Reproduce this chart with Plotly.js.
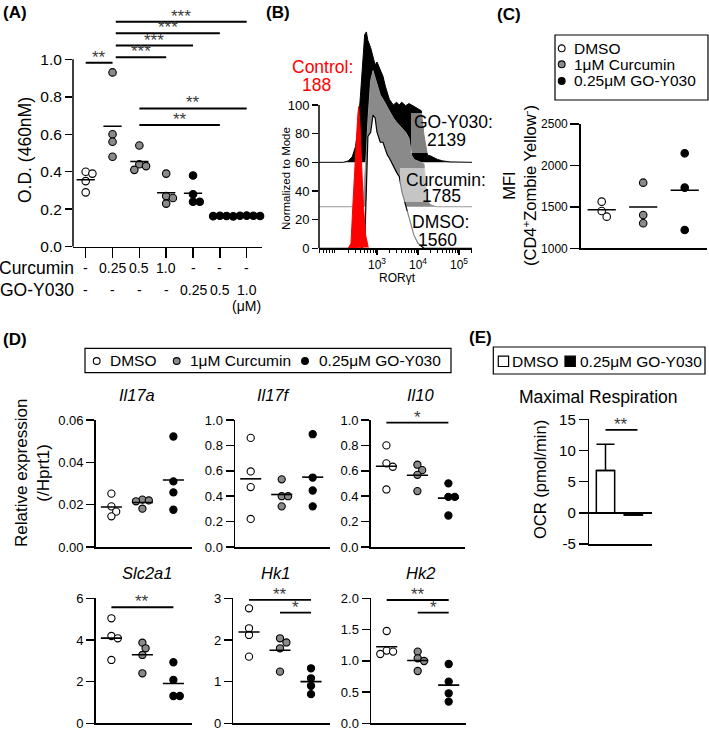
<!DOCTYPE html>
<html><head><meta charset="utf-8">
<script src="https://cdn.plot.ly/plotly-3.0.1.min.js"></script>
<style>html,body{margin:0;padding:0;background:#fff}#chart{width:709px;height:732px}</style>
</head><body><div id="chart"></div>
<script>
// ================= DATA =================
// (A) O.D. (460nM)
const aCurcumin = ['-', '0.25', '0.5', '1.0', '-', '-', '-'];
const aGoY030   = ['-', '-', '-', '-', '0.25', '0.5', '1.0'];
const aTypes    = ['dmso', 'cur', 'cur', 'cur', 'go', 'go', 'go'];
const aDMSO   = [0.40, 0.39, 0.35, 0.29];
const aCur025 = [0.93, 0.60, 0.56, 0.48];
const aCur05  = [0.54, 0.44, 0.43, 0.41];
const aCur10  = [0.39, 0.27, 0.26, 0.23];
const aGo025  = [0.38, 0.28, 0.24, 0.24];
const aGo05   = [0.165, 0.164, 0.163, 0.162];
const aGo10   = [0.166, 0.165, 0.165, 0.164];
const aSigFrom = [0, 1.12, 1.12, 1.12, 1.12, 2, 2];
const aSigTo   = [1, 3, 4, 5, 6, 5, 6];
const aSigY    = [0.982, 1.011, 1.073, 1.139, 1.201, 0.649, 0.738];
const aSigText = ['**', '***', '***', '***', '***', '**', '**'];

// (B) RORgt histograms (normalized to mode)
const bBins = [150, 200, 250, 300, 350, 400, 450, 500, 550, 600, 700, 800, 900, 1000, 1200, 1400, 1600, 1800, 2000, 2500, 3000, 3500, 4000, 5000, 6000, 7000, 8000, 10000, 12000, 14000, 17000, 20000, 25000, 30000, 40000, 60000];
const bGO   = [0, 1, 4, 11, 26, 49, 73, 89, 91, 85, 80, 74, 68, 70, 64, 60, 53, 48, 44, 40, 42, 40, 42, 39.5, 41, 40, 39, 37.7, 36, 19, 5, 4.5, 3, 2, 1, 0.3];
const bCur  = [0, 0, 0, 0, 0, 0, 1, 18, 38, 60, 88, 95, 90, 85, 78, 75, 72, 69, 67, 62, 59, 57, 55, 52, 48, 36, 33, 32, 31, 30, 4, 1.5, 0.5, 0, 0, 0];
const bDMSO = [0, 0, 0, 0, 0, 0, 1, 3, 41, 78, 81, 93, 91, 81, 74, 74, 69, 65, 63, 57, 53, 50, 40, 30, 22, 14, 9, 3.5, 1.2, 0, 0, 0, 0, 0, 0, 0];
const bCtrlX = [200, 232, 263, 300, 338, 357, 385, 423, 464, 530, 614];
const bCtrlY = [0, 3.5, 35, 70, 92, 99, 86, 58, 30, 9, 0.5];
const bLabels = ['GO-Y030:', '2139', 'Curcumin:', '1785', 'DMSO:', '1560'];
const bControlLabel = ['Control:', '188'];

// (C) MFI (CD4+ Zombie Yellow-)
const cGroups = ['DMSO', '1μM Curcumin', '0.25μM GO-Y030'];
const cDMSO = [1563, 1382, 1450];
const cCur  = [1792, 1302, 1402];
const cGo   = [2146, 1732, 1221];

// (D) Relative expression (/Hprt1)
const dGenes = ['Il17a', 'Il17f', 'Il10', 'Slc2a1', 'Hk1', 'Hk2'];
const dIl17a  = [[0.0252, 0.0192, 0.0167, 0.0145], [0.0224, 0.0220, 0.0216, 0.0181], [0.0522, 0.0310, 0.0258, 0.0176]];
const dIl17f  = [[0.859, 0.595, 0.472, 0.221], [0.533, 0.40, 0.40, 0.32], [0.888, 0.547, 0.445, 0.32]];
const dIl10   = [[0.80, 0.659, 0.632, 0.453], [0.648, 0.605, 0.568, 0.44], [0.501, 0.395, 0.395, 0.248]];
const dSlc2a1 = [[5.04, 4.19, 4.08, 3.04], [3.87, 3.6, 3.28, 2.4], [2.93, 2.08, 1.31, 1.31]];
const dHk1    = [[2.76, 2.28, 2.12, 1.6], [2.04, 1.94, 1.8, 1.24], [1.32, 1.08, 0.9, 0.70]];
const dHk2    = [[1.477, 1.163, 1.147, 1.109], [1.147, 1.04, 0.997, 0.837], [0.949, 0.667, 0.48, 0.347]];
const dSig = {
  Il10:   [[0, 2, '*', 0.979]],
  Slc2a1: [[0, 2, '**', 5.57]],
  Hk1:    [[0, 2, '**', 2.96], [1, 2, '*', 2.656]],
  Hk2:    [[0, 2, '**', 1.973], [1, 2, '*', 1.771]]
};

// (E) Maximal respiration, OCR (pmol/min)
const eGroups = ['DMSO', '0.25μM GO-Y030'];
const eMean = [6.8, -0.35];
const eErr  = [4.2, 0];
const eSig  = [[0, 1.15, '**', 13.3]];

// ================= LAYOUT HELPERS =================
const W = 709, H = 732;
const FONT = 'Liberation Sans, Arial, Helvetica, sans-serif';
const GRAY = '#8a8a8a';
const fillOf = {dmso: 'white', cur: GRAY, go: 'black'};
const PX = p => p / W, PY = p => 1 - p / H;
function catRange(p0, p1, first, step) { return [(p0 - first) / step, (p1 - first) / step]; }
function valRange(top, bot, pA, vA, pB, vB) { const k = (vB - vA) / (pB - pA); return [vA + (bot - pA) * k, vA + (top - pA) * k]; }

const layout = {width: W, height: H, margin: {l: 0, r: 0, t: 0, b: 0}, paper_bgcolor: 'white',
  plot_bgcolor: 'rgba(0,0,0,0)', showlegend: false, font: {family: FONT, color: 'black'},
  shapes: [], annotations: []};
const traces = [];

function axBase() {
  return {showgrid: false, zeroline: false, showline: true, linecolor: 'black', linewidth: 1.5,
    ticks: 'outside', tickcolor: 'black', tickwidth: 1.5, ticklen: 8,
    tickfont: {family: FONT, size: 13, color: 'black'}, fixedrange: true};
}
const sfx = n => (n === 1 ? '' : String(n));
const pxInfo = {};
function setAxes(n, xd, yd, xr, yr, xo, yo) {
  const s = sfx(n);
  layout['xaxis' + s] = Object.assign(axBase(), {domain: [PX(xd[0]), PX(xd[1])], range: xr, anchor: 'y' + s}, xo || {});
  layout['yaxis' + s] = Object.assign(axBase(), {domain: [PY(yd[1]), PY(yd[0])], range: yr, anchor: 'x' + s}, yo || {});
  pxInfo[n] = {xd, yd, xr, yr};
}
function ann(text, x, y, size, o) {
  layout.annotations.push(Object.assign({text, xref: 'paper', yref: 'paper', x: PX(x), y: PY(y), showarrow: false,
    xanchor: 'center', yanchor: 'middle', font: {family: FONT, size, color: 'black'}}, o || {}));
}
function swarm(vals, unitPx, catPx, d) {
  const idx = vals.map((v, i) => i).sort((a, b) => vals[b] - vals[a]);
  const placed = [], off = vals.map(() => 0), step = d / 4;
  for (const i of idx) {
    const y = vals[i] * unitPx;
    let chosen = 0;
    for (let k = 0; k < 80; k++) {
      const c = k === 0 ? 0 : (k % 2 ? 1 : -1) * Math.ceil(k / 2) * step;
      if (placed.every(p => Math.hypot(p.x - c, p.y - y) >= d)) { chosen = c; break; }
    }
    placed.push({x: chosen, y}); off[i] = chosen / catPx;
  }
  return off;
}
function dots(n, groups, types, size) {
  const s = sfx(n), P = pxInfo[n];
  const catPx = (P.xd[1] - P.xd[0]) / (P.xr[1] - P.xr[0]);
  const unitPx = (P.yd[1] - P.yd[0]) / (P.yr[1] - P.yr[0]);
  groups.forEach((vals, g) => {
    const off = swarm(vals, unitPx, catPx, size - 0.8);
    traces.push({type: 'scatter', mode: 'markers', xaxis: 'x' + s, yaxis: 'y' + s,
      x: vals.map((v, i) => g + off[i]), y: vals, cliponaxis: false, hoverinfo: 'skip',
      marker: {size, color: fillOf[types[g]], line: {color: 'black', width: 1.1}}});
    const m = vals.reduce((a, b) => a + b, 0) / vals.length;
    traces.push({type: 'scatter', mode: 'lines', xaxis: 'x' + s, yaxis: 'y' + s,
      x: [g - 0.34, g + 0.34], y: [m, m], line: {color: 'black', width: 1.6}, hoverinfo: 'skip'});
  });
}
function sig(n, from, to, text, y, fs, lw) {
  const s = sfx(n);
  layout.shapes.push({type: 'line', xref: 'x' + s, yref: 'y' + s, x0: from, x1: to, y0: y, y1: y,
    line: {color: 'black', width: lw || 1.8}});
  layout.annotations.push({text, xref: 'x' + s, yref: 'y' + s, x: (from + to) / 2, y, yanchor: 'bottom',
    yshift: -6, showarrow: false, font: {family: FONT, size: fs || 17, color: '#3a3a3a'}});
}
function vline(n, y0, y1) {
  const s = sfx(n);
  layout.shapes.push({type: 'line', xref: 'x' + s + ' domain', yref: 'y' + s, x0: 0, x1: 0, y0, y1,
    line: {color: 'black', width: 1.5}});
}

// ================= PANEL A =================
setAxes(1, [73, 262], [12, 246.7], catRange(73, 262, 85.7, 26.83), valRange(12, 246.7, 246.7, 0, 59.3, 1.0),
  {tickvals: [0, 1, 2, 3, 4, 5, 6], showticklabels: false, ticklen: 10},
  {showline: false, tickvals: [0, 0.2, 0.4, 0.6, 0.8, 1.0], tickformat: '.1f', ticklen: 7,
   tickfont: {family: FONT, size: 15.5, color: 'black'}});
vline(1, 0, 1.0);
dots(1, [aDMSO, aCur025, aCur05, aCur10, aGo025, aGo05, aGo10], aTypes, 7.5);
aSigFrom.forEach((f, i) => sig(1, f, aSigTo[i], aSigText[i], aSigY[i], 17, 2));
aCurcumin.forEach((t, i) => layout.annotations.push({text: t, xref: 'x', yref: 'paper', x: i, y: PY(268), showarrow: false,
  yanchor: 'middle', font: {family: FONT, size: 14, color: 'black'}}));
aGoY030.forEach((t, i) => layout.annotations.push({text: t, xref: 'x', yref: 'paper', x: i, y: PY(290), showarrow: false,
  yanchor: 'middle', font: {family: FONT, size: 14, color: 'black'}}));
layout.annotations.push({text: '(μM)', xref: 'x', yref: 'paper', x: 6, y: PY(306), showarrow: false,
  yanchor: 'middle', font: {family: FONT, size: 14, color: 'black'}});
ann('Curcumin', 76, 268, 17.5, {xanchor: 'right'});
ann('GO-Y030', 76, 290, 17.5, {xanchor: 'right'});
ann('O.D. (460nM)', 25, 150, 17.5, {textangle: -90});
ann('<b>(A)</b>', 15, 13, 17);

// ================= PANEL B =================
const bXR = [3 + (319 - 377) / 41, 3 + (472 - 377) / 41];
const minorVals = [];
[10, 100, 1000, 10000, 100000].forEach(d => { for (let k = 2; k <= 9; k++) minorVals.push(k * d); });
setAxes(2, [319, 472], [19, 248.3], bXR, valRange(19, 248.3, 248.3, 0, 105, 100),
  {type: 'log', tickvals: [1e3, 1e4, 1e5], ticktext: ['10<sup>3</sup>', '10<sup>4</sup>', '10<sup>5</sup>'],
   ticklen: 5, tickwidth: 1.2, tickfont: {family: FONT, size: 12, color: 'black'},
   minor: {tickvals: minorVals, ticks: 'outside', ticklen: 3, tickcolor: 'black', tickwidth: 1}},
  {showline: false, tickvals: [0, 20, 40, 60, 80, 100], ticklen: 6, tickfont: {family: FONT, size: 13, color: 'black'}});
vline(2, 0, 100);
const xLo = Math.pow(10, bXR[0]), xHi = Math.pow(10, bXR[1]);
function hist(vals, off, fill, line, lw) {
  traces.push({type: 'scatter', mode: 'lines', xaxis: 'x2', yaxis: 'y2', fill: 'toself', fillcolor: fill,
    x: [xLo].concat(bBins, [xHi]), y: [off].concat(vals.map(v => v + off), [off]),
    line: {color: line, width: lw}, hoverinfo: 'skip'});
}
hist(bGO, 60, 'black', 'black', 1);
hist(bCur, 29, GRAY, '#9a9a9a', 1);
hist(bDMSO, 0, 'white', 'black', 1.2);
traces.push({type: 'scatter', mode: 'lines', xaxis: 'x2', yaxis: 'y2', fill: 'toself', fillcolor: '#ff0000',
  x: bCtrlX, y: bCtrlY, line: {color: '#ff0000', width: 1}, hoverinfo: 'skip'});
// semi-transparent label backgrounds
[[411, 113, 497, 153], [400, 168, 496, 202], [406, 211, 476, 246]].forEach(r => layout.shapes.push({
  type: 'rect', xref: 'paper', yref: 'paper', x0: PX(r[0]), x1: PX(r[2]), y0: PY(r[3]), y1: PY(r[1]),
  fillcolor: 'rgba(255,255,255,0.5)', line: {width: 0}}));
ann(bLabels[0], 453, 122, 17.5); ann(bLabels[1], 446, 140, 17.5);
ann(bLabels[2], 446, 180, 17.5); ann(bLabels[3], 441, 196, 17.5);
ann(bLabels[4], 440, 222, 17.5); ann(bLabels[5], 437, 240, 17.5);
ann(bControlLabel[0], 322, 67, 17.5, {font: {family: FONT, size: 17.5, color: '#ff0000'}});
ann(bControlLabel[1], 316, 85, 17.5, {font: {family: FONT, size: 17.5, color: '#ff0000'}});
ann('Normalized to Mode', 286, 179, 11.5, {textangle: -90});
ann('RORγt', 397, 278, 12);
ann('<b>(B)</b>', 278, 13, 17);

// ================= PANEL C =================
setAxes(3, [580.7, 707], [124, 248.3], catRange(580.7, 707, 601.7, 41.5), [1000, 2500],
  {ticks: '', showticklabels: false},
  {tickvals: [1000, 1500, 2000, 2500], ticklen: 9, tickfont: {family: FONT, size: 12, color: 'black'}});
dots(3, [cDMSO, cCur, cGo], ['dmso', 'cur', 'go'], 7.5);
ann('MFI<br>(CD4<sup>+</sup>Zombie Yellow<sup>-</sup>)', 520, 186, 16.5, {textangle: -90});
ann('<b>(C)</b>', 509, 15, 17);

// manual legends
function legCircle(cx, cy, type) {
  const r = 3.4;
  layout.shapes.push({type: 'circle', xref: 'paper', yref: 'paper', x0: PX(cx - r), x1: PX(cx + r),
    y0: PY(cy + r), y1: PY(cy - r), fillcolor: fillOf[type], line: {color: 'black', width: 1.1}});
}
function legBox(x0, y0, x1, y1) {
  layout.shapes.push({type: 'rect', xref: 'paper', yref: 'paper', x0: PX(x0), x1: PX(x1), y0: PY(y1), y1: PY(y0),
    line: {color: 'black', width: 1.2}, fillcolor: 'rgba(0,0,0,0)'});
}
legBox(555, 35, 708, 100);
[48.3, 64.3, 81].forEach((y, i) => { legCircle(561.7, y, ['dmso', 'cur', 'go'][i]);
  ann(cGroups[i], 571.5, y, 15.5, {xanchor: 'left'}); });

// ================= PANEL D =================
const dX = [[95.7, 191.7], [235, 330], [370.7, 465], [95.7, 191.7], [233.3, 330], [371, 466]];
const dYtop = [420, 547], dYbot = [598.3, 723.3];
const dRanges = [[0, 0.06], [0, 1], [0, 1], [0, 6], [0, 3], [0, 2]];
const dTicks = [
  {tickvals: [0, 0.02, 0.04, 0.06], tickformat: '.2f'},
  {tickvals: [0, 0.2, 0.4, 0.6, 0.8, 1.0], tickformat: '.1f'},
  {tickvals: [0, 0.2, 0.4, 0.6, 0.8, 1.0], tickformat: '.1f'},
  {tickvals: [0, 2, 4, 6]},
  {tickvals: [0, 1, 2, 3]},
  {tickvals: [0, 0.5, 1.0, 1.5, 2.0], tickformat: '.1f'}];
const dData = [dIl17a, dIl17f, dIl10, dSlc2a1, dHk1, dHk2];
const dTitlePos = [[137, 395], [274, 395], [420, 395], [147, 573], [275, 573], [420, 573]];
dGenes.forEach((g, k) => {
  const n = 4 + k;
  const xd = dX[k], yd = k < 3 ? dYtop : dYbot;
  setAxes(n, xd, yd, catRange(xd[0], xd[1], xd[0] + 15.7, 31), dRanges[k],
    {ticks: '', showticklabels: false}, Object.assign({ticklen: 8}, dTicks[k]));
  dots(n, dData[k], ['dmso', 'cur', 'go'], 7.2);
  (dSig[g] || []).forEach(sg => sig(n, sg[0], sg[1], sg[2], sg[3], 17, 1.8));
  ann('<i>' + g + '</i>', dTitlePos[k][0], dTitlePos[k][1], 16.5);
});
ann('Relative expression<br>(/Hprt1)', 32, 473, 17, {textangle: -90});
ann('<b>(D)</b>', 15, 339, 17);
legBox(85, 348.3, 451, 372.7);
[[96.7, 108.3, 'dmso'], [176.7, 188.3, 'cur'], [305, 316.7, 'go']].forEach((e, i) => {
  legCircle(e[0], 361, e[2]); ann(cGroups[i], e[1], 361, 15.5, {xanchor: 'left'}); });

// ================= PANEL E =================
setAxes(10, [589.3, 651.7], [419.3, 544], catRange(589.3, 651.7, 605.5, 27.8), [-5, 15],
  {ticks: '', showticklabels: false},
  {tickvals: [-5, 0, 5, 10, 15], ticktext: ['-5', '0', '5', '10', '15'], ticklen: 9,
   zeroline: true, zerolinecolor: 'black', zerolinewidth: 1.5,
   tickfont: {family: FONT, size: 15, color: 'black'}});
traces.push({type: 'bar', xaxis: 'x10', yaxis: 'y10', x: [0, 1], y: eMean, width: 0.66,
  marker: {color: ['white', 'black'], line: {color: 'black', width: 1.5}},
  error_y: {type: 'data', array: eErr, arrayminus: [0, 0], symmetric: false, color: 'black', thickness: 1.5, width: 9,
    visible: true}, hoverinfo: 'skip'});
eSig.forEach(sg => sig(10, sg[0], sg[1], sg[2], sg[3], 17, 1.8));
ann('OCR (pmol/min)', 540, 480, 16.5, {textangle: -90});
ann('Maximal Respiration', 598.3, 397, 17.5);
ann('<b>(E)</b>', 481, 338, 17);
legBox(493.3, 347, 705, 374);
layout.shapes.push({type: 'rect', xref: 'paper', yref: 'paper', x0: PX(498.3), x1: PX(508.6), y0: PY(366.5), y1: PY(356.2),
  fillcolor: 'white', line: {color: 'black', width: 1.2}});
layout.shapes.push({type: 'rect', xref: 'paper', yref: 'paper', x0: PX(565), x1: PX(575.3), y0: PY(366.5), y1: PY(356.2),
  fillcolor: 'black', line: {color: 'black', width: 1.2}});
ann(eGroups[0], 510, 361.5, 15.5, {xanchor: 'left'});
ann(eGroups[1], 577.5, 361.5, 15.5, {xanchor: 'left'});

Plotly.newPlot('chart', traces, layout, {displayModeBar: false, staticPlot: true});
</script>
</body></html>
